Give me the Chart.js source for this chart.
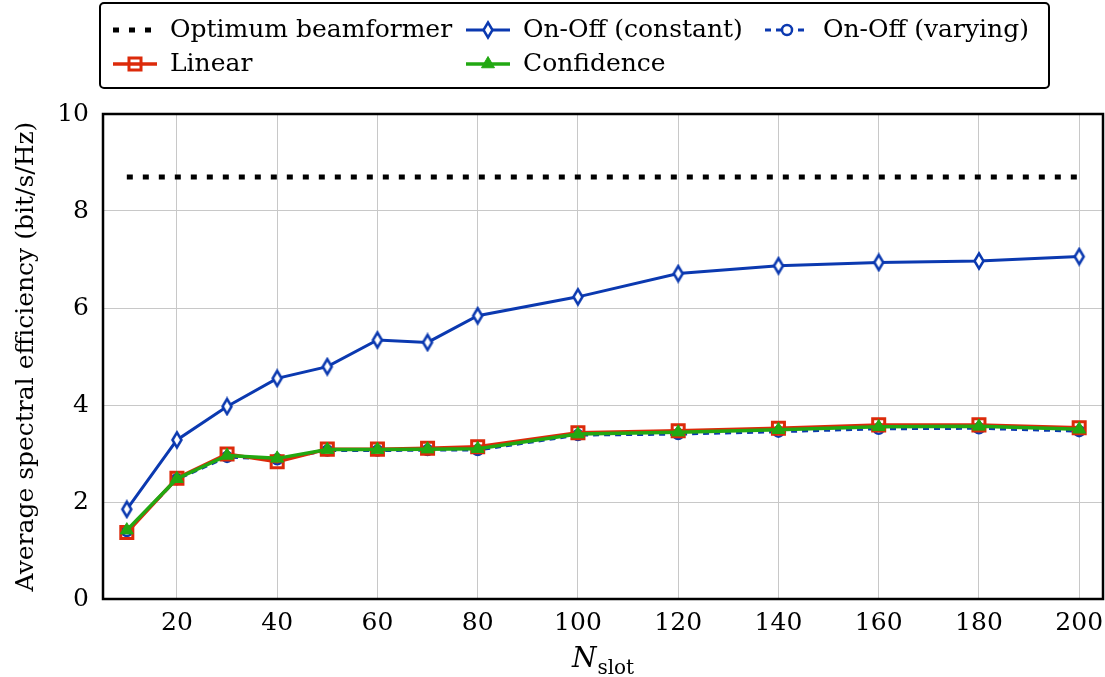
<!DOCTYPE html>
<html>
<head>
<meta charset="utf-8">
<script src="https://cdn.jsdelivr.net/npm/chart.js@4.4.1/dist/chart.umd.min.js"></script>
<style>
  html, body { margin: 0; padding: 0; background: #fff; overflow: hidden; }
  #wrap { width: 1105px; height: 677px; }
  canvas { display: block; }
</style>
</head>
<body>
<div id="wrap"><canvas id="chart" width="1105" height="677"></canvas></div>
<script>
// values
const slots = [10, 20, 30, 40, 50, 60, 70, 80, 100, 120, 140, 160, 180, 200];
const optimum = [8.7, 8.7, 8.7, 8.7, 8.7, 8.7, 8.7, 8.7, 8.7, 8.7, 8.7, 8.7, 8.7, 8.7];
const onOffConstant = [1.85, 3.28, 3.97, 4.55, 4.79, 5.34, 5.29, 5.84, 6.23, 6.71, 6.87, 6.94, 6.97, 7.06];
const onOffVarying = [1.40, 2.47, 2.93, 2.88, 3.06, 3.06, 3.07, 3.07, 3.38, 3.40, 3.45, 3.51, 3.52, 3.46];
const linear = [1.37, 2.49, 2.99, 2.83, 3.09, 3.09, 3.11, 3.14, 3.43, 3.47, 3.52, 3.59, 3.59, 3.53];
const confidence = [1.42, 2.48, 2.96, 2.90, 3.08, 3.08, 3.09, 3.10, 3.40, 3.44, 3.49, 3.55, 3.56, 3.50];
const xTicks = [20, 40, 60, 80, 100, 120, 140, 160, 180, 200];
const yTicks = [0, 2, 4, 6, 8, 10];

const FONT = "'DejaVu Serif', serif";
const BLUE = '#0b39b0';
const RED = '#dc2a0a';
const GREEN = '#22a812';

function pts(values) {
  return slots.map((s, i) => ({ x: s, y: values[i] }));
}

// tall thin diamond like the pgfplots "diamond" mark
function diamond(color) {
  const c = document.createElement('canvas');
  c.width = 14; c.height = 20;
  const g = c.getContext('2d');
  g.beginPath();
  g.moveTo(7, 2.5); g.lineTo(11.5, 10); g.lineTo(7, 17.5); g.lineTo(2.5, 10); g.closePath();
  g.fillStyle = '#fff';
  g.fill();
  g.lineWidth = 2.5;
  g.strokeStyle = color;
  g.stroke();
  return c;
}
const diamondMark = diamond(BLUE);

const ctx = document.getElementById('chart').getContext('2d');

// frame, legend box and x axis title
const extras = {
  id: 'extras',
  afterDraw(chart) {
    const c = chart.ctx;
    const a = chart.chartArea;
    c.save();
    c.strokeStyle = '#000';
    c.lineWidth = 2.5;
    c.strokeRect(a.left, a.top, a.right - a.left, a.bottom - a.top);

    // legend
    c.beginPath();
    c.roundRect(100, 3, 949, 85, 4);
    c.lineWidth = 2;
    c.stroke();
    c.font = '25px ' + FONT;
    c.fillStyle = '#000';
    c.textBaseline = 'middle';
    c.textAlign = 'left';
    const items = [
      { ds: 0, sx: 113, tx: 170, y: 30 },
      { ds: 1, sx: 466, tx: 523, y: 30 },
      { ds: 2, sx: 765, tx: 823, y: 30 },
      { ds: 3, sx: 113, tx: 170, y: 64 },
      { ds: 4, sx: 466, tx: 523, y: 64 }
    ];
    items.forEach(it => {
      const d = chart.data.datasets[it.ds];
      const len = 44, mid = it.sx + len / 2;
      c.save();
      c.strokeStyle = d.borderColor;
      c.lineWidth = d.borderWidth;
      c.setLineDash(d.borderDash || []);
      c.beginPath();
      c.moveTo(it.sx, it.y); c.lineTo(it.sx + len, it.y);
      c.stroke();
      c.restore();
      if (d.pointRadius > 0) {
        if (d.pointStyle instanceof HTMLCanvasElement) {
          c.drawImage(d.pointStyle, mid - d.pointStyle.width / 2, it.y - d.pointStyle.height / 2);
        } else {
          const opts = { pointStyle: d.pointStyle, rotation: 0, borderWidth: d.pointBorderWidth, radius: d.pointRadius };
          c.save();
          c.strokeStyle = d.pointBorderColor;
          c.fillStyle = d.pointBackgroundColor;
          c.lineWidth = d.pointBorderWidth;
          Chart.helpers.drawPoint(c, opts, mid, it.y);
          c.restore();
        }
      }
      c.fillText(d.label, it.tx, it.y);
    });

    // x title: N_slot
    const cx = (a.left + a.right) / 2;
    c.font = 'italic 28px ' + FONT;
    const wN = c.measureText('N').width;
    c.font = '20px ' + FONT;
    const wS = c.measureText('slot').width;
    const x0 = cx - (wN + wS + 1) / 2;
    c.textBaseline = 'alphabetic';
    c.font = 'italic 28px ' + FONT;
    c.fillText('N', x0, 667);
    c.font = '20px ' + FONT;
    c.fillText('slot', x0 + wN + 1, 674);
    c.restore();
  }
};

new Chart(ctx, {
  type: 'line',
  data: {
    datasets: [
      {
        label: 'Optimum beamformer',
        data: pts(optimum),
        borderColor: '#000',
        borderWidth: 5,
        borderDash: [6, 10],
        borderCapStyle: 'butt',
        pointRadius: 0,
        order: 4
      },
      {
        label: 'On-Off (constant)',
        data: pts(onOffConstant),
        borderColor: BLUE,
        borderWidth: 3,
        pointStyle: diamondMark,
        pointRadius: 7,
        order: 3
      },
      {
        label: 'On-Off (varying)',
        data: pts(onOffVarying),
        borderColor: BLUE,
        borderWidth: 3,
        borderDash: [6, 5],
        pointStyle: 'circle',
        pointRadius: 5,
        pointBorderWidth: 2.5,
        pointBorderColor: BLUE,
        pointBackgroundColor: '#fff',
        order: 2
      },
      {
        label: 'Linear',
        data: pts(linear),
        borderColor: RED,
        borderWidth: 3.5,
        pointStyle: 'rect',
        pointRadius: 8.5,
        pointBorderWidth: 3,
        pointBorderColor: RED,
        pointBackgroundColor: 'rgba(255,255,255,0)',
        order: 1
      },
      {
        label: 'Confidence',
        data: pts(confidence),
        borderColor: GREEN,
        borderWidth: 3.5,
        pointStyle: 'triangle',
        pointRadius: 7.5,
        pointBorderWidth: 1,
        pointBorderColor: GREEN,
        pointBackgroundColor: GREEN,
        order: 0
      }
    ]
  },
  options: {
    responsive: false,
    animation: false,
    layout: { autoPadding: false, padding: { top: 114, right: 2, left: 0, bottom: 0 } },
    plugins: {
      legend: { display: false },
      tooltip: { enabled: false }
    },
    scales: {
      x: {
        type: 'linear',
        min: 5.25,
        max: 204.75,
        afterBuildTicks: (s) => { s.ticks = xTicks.map(v => ({ value: v })); },
        afterFit: (s) => { s.height = 78; s.paddingLeft = 0; s.paddingRight = 0; },
        grid: { color: '#c8c8c8', lineWidth: 1, drawTicks: false },
        border: { display: false },
        ticks: { color: '#000', font: { family: FONT, size: 25 }, padding: 9 }
      },
      y: {
        min: 0,
        max: 10,
        afterBuildTicks: (s) => { s.ticks = yTicks.map(v => ({ value: v })); },
        afterFit: (s) => { s.width = 103; s.paddingTop = 0; s.paddingBottom = 0; },
        grid: { color: '#c8c8c8', lineWidth: 1, drawTicks: false },
        border: { display: false },
        ticks: { color: '#000', font: { family: FONT, size: 25 }, padding: 14 },
        title: {
          display: true,
          text: 'Average spectral efficiency (bit/s/Hz)',
          color: '#000',
          font: { family: FONT, size: 25 },
          padding: { top: 11, bottom: 0 }
        }
      }
    }
  },
  plugins: [extras]
});
</script>
</body>
</html>
